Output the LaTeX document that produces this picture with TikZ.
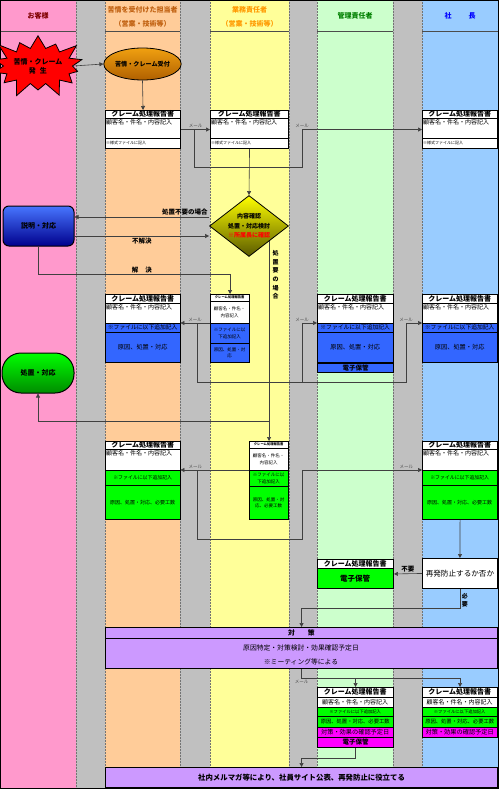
\documentclass[tikz,border=0pt]{standalone}
\usepackage{fontspec}
\setmainfont{Noto Sans CJK JP}
\usetikzlibrary{arrows.meta,shapes.geometric,shapes.symbols,positioning}

\definecolor{lanepink}{HTML}{FF99CC}
\definecolor{lanegray}{HTML}{C0C0C0}
\definecolor{laneorange}{HTML}{FFCC99}
\definecolor{laneyellow}{HTML}{FFFF99}
\definecolor{lanegreen}{HTML}{CCFFCC}
\definecolor{laneblue}{HTML}{99CCFF}
\definecolor{rowblue}{HTML}{3366FF}
\definecolor{rowgreen}{HTML}{00FF00}
\definecolor{rowpink}{HTML}{FF00FF}
\definecolor{plan}{HTML}{CC99FF}
\definecolor{hdred}{HTML}{800000}
\definecolor{hdbrown}{HTML}{C06010}
\definecolor{hdorange}{HTML}{FF9900}
\definecolor{hdgreen}{HTML}{008000}
\definecolor{hdblue}{HTML}{0000FF}
\definecolor{elltop}{HTML}{F0A010}
\definecolor{ellbot}{HTML}{B06000}

\newcommand{\jsz}[2]{\fontsize{#1}{#2}\selectfont}

\begin{document}
\begin{tikzpicture}[x=1pt, y=-1pt,
  lanehead/.style={font=\bfseries\jsz{7}{14}, align=center},
  box/.style={draw, line width=1.1pt, fill=white, anchor=north west, inner sep=0pt, minimum width=#1},
  box/.default=75pt,
  row/.style={draw, line width=0.4pt, anchor=north west, inner sep=0pt, minimum width=#1, align=center, font=\jsz{6}{7}},
  row/.default=75pt,
  ttl/.style={row=#1, fill=white, font=\bfseries\jsz{7}{8}},
  ttl/.default=75pt,
  txt/.style={anchor=north west, inner sep=1pt, font=\jsz{6}{7}},
  srow/.style={row=39pt, font=\jsz{4.5}{6.5}},
  sttl/.style={srow, fill=white, font=\bfseries\jsz{3.3}{4}},
  arr/.style={-{Triangle[length=4pt,width=4pt]}, draw=black!75, line width=0.6pt},
  mail/.style={font=\jsz{4.5}{5}, text=black!70, inner sep=1.5pt},
  lbl/.style={font=\bfseries\jsz{6.5}{7}, inner sep=1.5pt}
]
\useasboundingbox (0,0) rectangle (500,790);
\fill[white] (0,0) rectangle (500,790);

% swim lanes
\foreach \xa/\xb/\col in {0/76/lanepink,76/105/lanegray,105/180/laneorange,180/210/lanegray,210/289/laneyellow,289/317/lanegray,317/393/lanegreen,393/422/lanegray,422/498/laneblue}
  \fill[\col] (\xa,0) rectangle (\xb,788);
\foreach \xa in {76,105,180,210,289,317,393,422}
  \draw[black!55, densely dotted, line width=0.5pt] (\xa,0) -- (\xa,788);
\foreach \xa/\xb in {0/76,105/180,210/289,317/393,422/498}
  \draw[black!70, line width=0.6pt] (\xa,31) -- (\xb,31);
\draw[line width=0.8pt] (0.4,0.4) rectangle (498,788);

\node[lanehead, text=hdred] (hd1) at (38,16) {お客様};
\node[lanehead, text=hdbrown] (hd2) at (142.5,17) {苦情を受付けた担当者\\（営業・技術等）};
\node[lanehead, text=hdorange] (hd3) at (249.5,17) {業務責任者\\（営業・技術等）};
\node[lanehead, text=hdgreen] (hd4) at (355,16) {管理責任者};
\node[lanehead, text=hdblue] (hd5) at (460,16) {社\hspace{17pt}長};

% reception
\node[starburst, fill=red, draw=black, line width=0.8pt, minimum width=78pt, minimum height=70pt,
  starburst point height=17pt, starburst points=14, inner sep=0pt, align=center,
  font=\bfseries\jsz{7}{9}] (st) at (38,66) {苦情・クレーム\\発\hspace{4pt}生};
\node[ellipse, draw=black, line width=0.8pt, top color=elltop, bottom color=ellbot,
  minimum width=75pt, minimum height=32pt, inner sep=0pt, font=\bfseries\jsz{6.1}{7}] (e1) at (142.5,64) {苦情・クレーム受付};
\draw[arr] (st.east) -- (e1.west);

% first reports
\node[box, minimum height=38pt] (a1) at (105,110) {};
\node[ttl, minimum height=8pt] (a1t) at (105,110) {クレーム処理報告書};
\node[txt] (a1w) at (105,118) {顧客名・件名・内容記入};
\node[row, minimum height=10pt, fill=white, font=\jsz{4}{5}, text width=73pt, align=left] (a1n) at (105,138) {※様式ファイルに記入};

\node[box=78pt, minimum height=38pt] (b1) at (210,110) {};
\node[ttl=78pt, minimum height=8pt] (b1t) at (210,110) {クレーム処理報告書};
\node[txt] (b1w) at (210,118) {顧客名・件名・内容記入};
\node[row=78pt, minimum height=10pt, fill=white, font=\jsz{4}{5}, text width=76pt, align=left] (b1n) at (210,138) {※様式ファイルに記入};

\node[box, minimum height=38pt] (c1) at (422,110) {};
\node[ttl, minimum height=8pt] (c1t) at (422,110) {クレーム処理報告書};
\node[txt] (c1w) at (422,118) {顧客名・件名・内容記入};
\node[row, minimum height=10pt, fill=white, font=\jsz{4}{5}, text width=73pt, align=left] (c1n) at (422,138) {※様式ファイルに記入};

\draw[arr] (e1.south) -- (a1.north);
\draw[arr] (a1.east) -- node[mail, above] {メール} coordinate[pos=0.47] (j1) (b1.west);
\draw[arr] (j1) -- ++(0,38) -| ([xshift=-120pt]c1.west) -- node[mail, above, pos=0] {メール} (c1.west);

% check
\node[diamond, draw=black, line width=0.8pt, top color=yellow, bottom color=olive!70!black, aspect=1.3,
  minimum width=79pt, minimum height=61pt, inner sep=0pt, align=center,
  font=\bfseries\jsz{6}{9.5}] (dm) at (249,226) {内容確認\\処置・対応検討\\\textcolor{red}{※所属長に確認}};
\draw[arr] (b1.south) -- (dm.north);

\node[draw=black, line width=1pt, rounded corners=6pt, top color=rowblue!90!white, bottom color=blue!55!black,
  minimum width=71pt, minimum height=40pt, font=\bfseries\jsz{7}{8}] (ex) at (38.5,226) {説明・対応};
\draw[arr] ([yshift=9pt]dm.west) -- node[lbl, above, pos=0.18] {処置不要の場合} ([yshift=9pt]ex.east);
\draw[arr] ([yshift=-10pt]ex.east) -- node[lbl, below, pos=0.5] {不解決} ([yshift=-10pt]dm.west);

% second reports
\node[box, minimum height=68pt] (a2) at (105,294) {};
\node[ttl, minimum height=9pt] (a2t) at (105,294) {クレーム処理報告書};
\node[txt] (a2w) at (105,303) {顧客名・件名・内容記入};
\node[row, fill=rowblue, minimum height=9pt, font=\jsz{5.8}{7}] (a2f) at (105,323) {※ファイルに以下追加記入};
\node[row, fill=rowblue, minimum height=30pt, font=\jsz{6.2}{7}] (a2r) at (105,332) {原因、処置・対応};

\node[box=39pt, minimum height=68pt] (b2) at (210,294) {};
\node[sttl, minimum height=7pt] (b2t) at (210,294) {クレーム処理報告書};
\node[srow, fill=white, minimum height=22pt] (b2w) at (210,301) {顧客名・件名・\\内容記入};
\node[srow, fill=rowblue, minimum height=20pt] (b2f) at (210,323) {※ファイルに以\\下追加記入};
\node[srow, fill=rowblue, minimum height=19pt] (b2r) at (210,343) {原因、処置・対\\応};

\node[box=76pt, minimum height=68pt] (d2) at (317,294) {};
\node[ttl=76pt, minimum height=9pt] (d2t) at (317,294) {クレーム処理報告書};
\node[txt] (d2w) at (317,303) {顧客名・件名・内容記入};
\node[row=76pt, fill=rowblue, minimum height=9pt, font=\jsz{5.8}{7}] (d2f) at (317,323) {※ファイルに以下追加記入};
\node[row=76pt, fill=rowblue, minimum height=30pt, font=\jsz{6.2}{7}] (d2r) at (317,332) {原因、処置・対応};
\node[row=76pt, fill=rowblue, minimum height=9pt, line width=1pt, font=\bfseries\jsz{6.5}{7}] (d2s) at (317,363) {電子保管};

\node[box, minimum height=68pt] (c2) at (422,294) {};
\node[ttl, minimum height=9pt] (c2t) at (422,294) {クレーム処理報告書};
\node[txt] (c2w) at (422,303) {顧客名・件名・内容記入};
\node[row, fill=rowblue, minimum height=9pt, font=\jsz{5.8}{7}] (c2f) at (422,323) {※ファイルに以下追加記入};
\node[row, fill=rowblue, minimum height=30pt, font=\jsz{6.2}{7}] (c2r) at (422,332) {原因、処置・対応};

\draw[arr] (ex.south) -- ++(0,28) -| node[lbl, above, pos=0.27] {解\hspace{7pt}決} (b2.north);
\draw[arr] (b2f.north west) -- node[mail, above] {メール} coordinate[pos=0.43] (j2) (a2f.north east);
\draw[arr] (j2) -- ++(0,59) -| ([xshift=-16pt]c2f.north west) -- node[mail, above, pos=0] {メール} (c2f.north west);
\coordinate (k2) at (302,382);
\draw[arr] (k2) |- node[mail, above, pos=0.5] {メール} (d2f.north west);

% treatment
\node[draw=black, line width=1pt, rounded corners=19pt, top color=rowgreen, bottom color=green!55!black,
  minimum width=72pt, minimum height=40pt, font=\bfseries\jsz{7}{8}] (tr) at (38,373) {処置・対応};

% third reports
\node[box, minimum height=78pt] (a3) at (105,441) {};
\node[ttl, minimum height=8pt] (a3t) at (105,441) {クレーム処理報告書};
\node[txt] (a3w) at (105,449) {顧客名・件名・内容記入};
\node[row, fill=rowgreen, minimum height=15pt, font=\jsz{4.9}{6}] (a3f) at (105,470) {※ファイルに以下追加記入};
\node[row, fill=rowgreen, minimum height=34pt, font=\jsz{5}{6}] (a3r) at (105,485) {原因、処置・対応、必要工数};

\node[box=39pt, minimum height=78pt] (b3) at (249,441) {};
\node[sttl, minimum height=7pt] (b3t) at (249,441) {クレーム処理報告書};
\node[srow, fill=white, minimum height=22pt] (b3w) at (249,448) {顧客名・件名・\\内容記入};
\node[srow, fill=rowgreen, minimum height=16pt] (b3f) at (249,470) {※ファイルに以\\下追加記入};
\node[srow, fill=rowgreen, minimum height=33pt] (b3r) at (249,486) {原因、処置・対\\応、必要工数};

\node[box, minimum height=78pt] (c3) at (422,441) {};
\node[ttl, minimum height=8pt] (c3t) at (422,441) {クレーム処理報告書};
\node[txt] (c3w) at (422,449) {顧客名・件名・内容記入};
\node[row, fill=rowgreen, minimum height=15pt, font=\jsz{4.9}{6}] (c3f) at (422,470) {※ファイルに以下追加記入};
\node[row, fill=rowgreen, minimum height=34pt, font=\jsz{5}{6}] (c3r) at (422,485) {原因、処置・対応、必要工数};

\draw[arr] (b3.north |- dm.south east) -- (b3.north);
\node[lbl, font=\bfseries\jsz{6}{8.6}, align=center] (lbv) at (275.5,275) {処\\置\\要\\の\\場\\合};
\coordinate (j4) at (268.5,421);
\draw[arr] (j4) -| (tr.south);
\draw[arr] (b3f.north west) -- node[mail, above, pos=0.78] {メール} coordinate[pos=0.754] (j3) (a3f.north east);
\draw[arr] (j3) -- ++(0,69) -| ([xshift=-120pt]c3f.north west) -- node[mail, above, pos=0.87] {メール} (c3f.north west);

% prevention decision
\node[box, minimum height=30pt, line width=0.9pt, font=\jsz{7.6}{8}] (rp) at (422,558) {再発防止するか否か};
\node[box=76pt, minimum height=29pt, line width=0.9pt] (e) at (317,559) {};
\node[ttl=76pt, minimum height=9pt] (et) at (317,559) {クレーム処理報告書};
\node[row=76pt, fill=rowgreen, minimum height=20pt, font=\bfseries\jsz{7.5}{8}] (es) at (317,568) {電子保管};

\node[box=392pt, minimum height=41pt, fill=plan] (m) at (105,627) {};
\node[row=392pt, fill=plan, minimum height=11pt, line width=1pt, font=\bfseries\jsz{6.8}{7}] (mt) at (105,627) {対\hspace{13pt}策};
\node[font=\jsz{6.8}{14}, align=center] (mb) at (301,655) {原因特定・対策検討・効果確認予定日\\※ミーティング等による};

\draw[arr] (c3.south) -- (rp.north);
\draw[arr] (rp.west) -- node[lbl, above] {不要} (e.east);
\draw[arr] (rp.south) -- node[lbl, right, pos=0.6, align=center, font=\bfseries\jsz{6}{8}] {必\\要} ++(0,19) -| (m.north);

% final reports
\node[box=76pt, minimum height=50pt] (f1) at (317,687) {};
\node[ttl=76pt, minimum height=10pt] (f1t) at (317,687) {クレーム処理報告書};
\node[row=76pt, fill=white, minimum height=10pt] (f1w) at (317,697) {顧客名・件名・内容記入};
\node[row=76pt, fill=rowgreen, minimum height=9pt, font=\jsz{4.3}{5}] (f1f) at (317,707) {※ファイルに以下追加記入};
\node[row=76pt, fill=rowgreen, minimum height=11pt, font=\jsz{5.3}{6}] (f1r) at (317,716) {原因、処置・対応、必要工数};
\node[row=76pt, fill=rowpink, minimum height=10pt, font=\jsz{6.2}{7}] (f1p) at (317,727) {対策・効果の確認予定日};
\node[row=76pt, fill=rowpink, minimum height=10pt, line width=1pt, font=\bfseries\jsz{6.5}{7}] (f1s) at (317,737) {電子保管};

\node[box, minimum height=50pt] (f2) at (422,687) {};
\node[ttl, minimum height=10pt] (f2t) at (422,687) {クレーム処理報告書};
\node[row, fill=white, minimum height=10pt] (f2w) at (422,697) {顧客名・件名・内容記入};
\node[row, fill=rowgreen, minimum height=9pt, font=\jsz{4.3}{5}] (f2f) at (422,707) {※ファイルに以下追加記入};
\node[row, fill=rowgreen, minimum height=11pt, font=\jsz{5.3}{6}] (f2r) at (422,716) {原因、処置・対応、必要工数};
\node[row, fill=rowpink, minimum height=10pt, font=\jsz{6.2}{7}] (f2p) at (422,727) {対策・効果の確認予定日};

\node[box=392pt, minimum height=20pt, fill=plan, font=\bfseries\jsz{7.4}{8}] (fin) at (105,767) {社内メルマガ等により、社員サイト公表、再発防止に役立てる};

\draw[arr] (m.south) |- node[mail, below, pos=0.5] {メール} ([yshift=9pt]f2.north) -- (f2.north);
\draw[arr] ([yshift=9pt]f1.north) -- (f1.north);
\draw[arr] (f1s.south) -- ++(0,10) -| (fin.north);

\end{tikzpicture}
\end{document}
